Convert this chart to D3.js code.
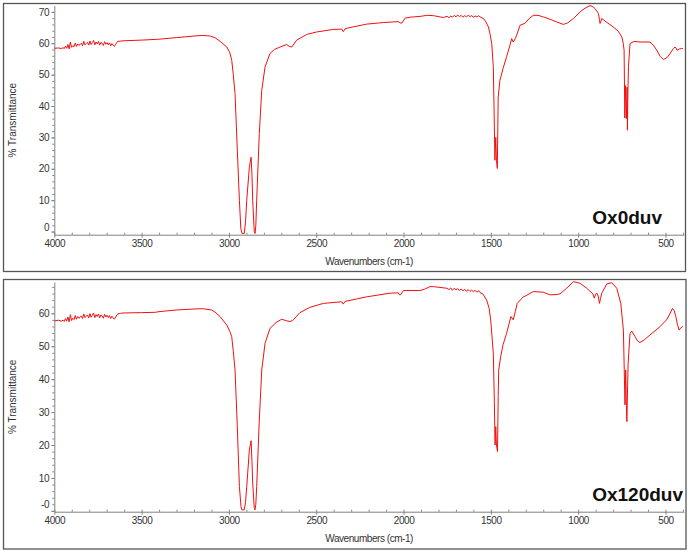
<!DOCTYPE html>
<html><head><meta charset="utf-8">
<script src="https://cdn.jsdelivr.net/npm/d3@7"></script>
<style>body{margin:0;background:#fff}svg{display:block;font-family:"Liberation Sans",Arial,sans-serif}</style>
</head><body><svg id="c" width="689" height="553"></svg>
<script>
// ---- Data ----
const topWavenumbers = [4000,3975,3960,3950,3943,3936,3929,3922,3915,3908,3901,3894,3887,3880,3873,3866,3859,3852,3845,3838,3831,3824,3817,3810,3803,3796,3789,3782,3775,3768,3761,3754,3747,3740,3733,3726,3719,3712,3705,3698,3691,3684,3677,3670,3663,3656,3649,3642,3635,3620,3600,3500,3400,3300,3200,3150,3107,3080,3050,3012,2995,2984,2975,2965,2952,2940,2932,2925,2912,2905,2898,2883,2873,2868,2864,2855,2850,2846,2841,2826,2812,2793,2765,2740,2707,2669,2655,2640,2612,2555,2497,2402,2354,2345,2335,2307,2211,2116,2030,2020,2010,1991,1963,1900,1867,1829,1791,1772,1750,1740,1730,1720,1710,1700,1690,1680,1670,1660,1650,1640,1630,1620,1610,1600,1590,1580,1570,1562,1545,1533,1514,1505,1495,1486,1482,1477,1472,1468,1463,1458,1448,1430,1410,1390,1381,1372,1360,1352,1333,1304,1280,1257,1230,1200,1160,1123,1085,1060,1027,979,950,932,915,903,884,878,875,870,865,840,799,770,750,742,737,733,729,724,720,718,715,712,703,680,646,589,570,550,530,512,490,474,455,446,440,433,420,407,400];
const topTransmittance = [58.4,58.5,58.3,58.6,58.3,59.1,58.4,59.6,58.2,60.4,58.7,59.2,58.9,60.1,59.0,59.8,59.3,59.6,60.0,59.2,60.6,59.5,59.9,60.3,59.4,60.7,59.6,60.2,60.9,59.5,60.4,59.8,60.6,59.4,60.3,60.0,59.3,60.5,59.7,60.2,59.5,60.1,59.2,59.9,59.4,59.0,59.6,60.3,60.6,60.7,60.8,61.0,61.3,61.8,62.3,62.5,62.3,61.8,60.6,58.8,57.0,54.6,50.0,44.0,26.0,10.0,1.0,-0.6,-0.6,3.0,10.0,20.5,23.7,18.0,10.0,0.0,-0.6,2.0,10.0,31.3,45.0,52.5,56.7,58.0,58.8,59.6,59.0,58.8,61.0,62.8,63.6,64.4,64.5,63.7,64.6,65.0,66.1,66.6,66.9,66.5,66.4,68.0,68.3,68.6,68.9,68.8,68.4,68.2,68.6,68.1,68.7,68.3,68.9,68.4,69.0,68.5,68.9,68.3,68.8,68.4,68.9,68.5,68.8,68.3,68.7,68.4,68.8,68.4,67.9,67.3,65.2,63.0,59.9,52.5,40.0,22.7,30.0,22.7,20.1,42.9,48.2,52.0,55.7,59.5,61.5,60.4,61.5,62.6,65.7,66.4,67.9,68.9,68.9,68.4,67.6,66.8,66.0,66.5,67.9,70.5,71.5,72.0,71.6,71.0,69.5,67.5,66.3,67.0,67.9,66.8,65.2,63.8,62.0,60.0,57.8,36.2,46.5,36.0,46.0,32.3,45.0,52.5,59.9,60.6,60.4,60.4,59.4,57.8,55.8,54.8,55.5,56.7,58.3,58.8,58.5,57.8,58.2,58.3,58.4];

const bottomWavenumbers = [4000,3975,3960,3950,3943,3936,3929,3922,3915,3908,3901,3894,3887,3880,3873,3866,3859,3852,3845,3838,3831,3824,3817,3810,3803,3796,3789,3782,3775,3768,3761,3754,3747,3740,3733,3726,3719,3712,3705,3698,3691,3684,3677,3670,3663,3656,3649,3642,3635,3620,3600,3500,3420,3400,3300,3200,3150,3099,3080,3051,3012,2995,2984,2975,2965,2952,2940,2931,2925,2913,2905,2898,2883,2873,2868,2864,2855,2851,2846,2841,2826,2812,2793,2765,2730,2698,2669,2650,2635,2593,2536,2459,2354,2345,2335,2211,2078,2030,2024,2015,2001,1906,1880,1849,1829,1752,1740,1730,1720,1710,1700,1690,1680,1670,1660,1650,1640,1630,1620,1610,1600,1590,1580,1570,1562,1545,1524,1510,1501,1486,1480,1476,1472,1468,1462,1458,1455,1444,1430,1410,1395,1385,1372,1360,1349,1314,1300,1257,1200,1161,1120,1104,1066,1027,989,951,916,908,900,893,885,878,872,865,836,808,779,756,741,735,732,728,724,721,717,714,703,693,674,660,646,620,589,532,494,475,460,450,441,431,422,412,403,400];
const bottomTransmittance = [57.7,57.9,57.6,57.9,57.5,58.4,57.6,58.9,57.4,59.6,57.8,58.5,58.1,59.3,58.2,59.0,58.5,58.8,59.2,58.4,59.8,58.7,59.1,59.5,58.6,59.9,58.8,59.4,60.1,58.7,59.6,59.0,59.8,58.6,59.5,59.2,58.5,59.7,58.9,59.4,58.7,59.3,58.4,59.1,58.6,58.2,58.8,59.5,59.8,60.0,60.1,60.2,60.3,60.5,61.0,61.3,61.4,61.0,60.4,59.0,56.4,54.5,52.9,48.5,42.8,25.6,7.4,1.3,0.3,0.3,2.5,7.4,18.5,21.3,15.0,8.5,1.0,0.3,2.0,7.4,27.6,42.8,50.9,55.4,57.2,58.2,57.7,57.5,57.8,60.2,61.8,63.0,63.5,62.8,63.6,65.0,66.1,66.2,65.6,65.7,66.9,66.9,67.3,68.1,68.1,67.6,67.2,67.7,67.0,67.6,67.1,67.5,66.9,67.4,66.8,67.3,66.7,67.2,66.6,67.1,66.5,67.0,66.4,66.9,66.3,65.8,64.0,61.5,58.0,47.9,33.0,20.0,25.6,20.0,18.0,35.0,42.8,46.8,50.5,53.9,57.0,59.0,58.0,60.5,63.0,65.0,65.3,66.6,66.4,65.6,65.7,65.9,67.6,69.6,69.1,67.6,65.9,64.6,65.8,66.1,65.2,63.0,64.5,66.1,68.9,69.3,67.6,63.0,54.9,40.0,32.2,42.8,32.0,27.1,38.0,44.8,53.9,54.6,52.9,51.6,51.1,52.0,53.4,55.9,58.0,59.8,61.5,60.8,59.0,56.5,54.9,55.6,55.9,56.0];

const xTickValues = [4000,3500,3000,2500,2000,1500,1000,500];
const xTickLabels = ["4000","3500","3000","2500","2000","1500","1000","500"];
const topYTickValues = [0,10,20,30,40,50,60,70];
const topYTickLabels = ["0","10","20","30","40","50","60","70"];
const bottomYTickValues = [0,10,20,30,40,50,60];
const bottomYTickLabels = ["-0","10","20","30","40","50","60"];
const sampleNames = ["Ox0duv","Ox120duv"];
const xTitle = "Wavenumbers (cm-1)";
const yTitle = "% Transmittance";

// ---- Layout ----
const svg = d3.select("#c");
svg.append("rect").attr("width",689).attr("height",553).attr("fill","#fff");

const panels = [
  {frame:[3.5,3.5,682,268], left:54.3, right:684, top:5.6, bottom:234.7, yDomain:[-1,72],
   wn:topWavenumbers, tr:topTransmittance, yt:topYTickValues, yl:topYTickLabels, name:sampleNames[0], nameX:662, nameY:224},
  {frame:[3.5,279.5,682.5,269.5], left:54.3, right:684, top:282, bottom:511.7, yDomain:[-0.25,69.5],
   wn:bottomWavenumbers, tr:bottomTransmittance, yt:bottomYTickValues, yl:bottomYTickLabels, name:sampleNames[1], nameX:683, nameY:501}
];

const axisColor = "#808080", textColor = "#333";

panels.forEach((p, pi) => {
  const g = svg.append("g");
  g.append("rect").attr("x",p.frame[0]).attr("y",p.frame[1]).attr("width",p.frame[2]).attr("height",p.frame[3])
    .attr("fill","none").attr("stroke","#555").attr("stroke-width",1.3);

  const x = d3.scaleLinear().domain([4000,394]).range([p.left,p.right]);
  const y = d3.scaleLinear().domain(p.yDomain).range([p.bottom,p.top]);

  // minor ticks
  const minorX = d3.range(4000, 399, -100);
  const gmx = g.append("g").attr("transform",`translate(0,${p.bottom})`)
    .call(d3.axisBottom(x).tickValues(minorX).tickSize(-2).tickFormat(""));
  gmx.select(".domain").remove();
  gmx.selectAll("line").attr("stroke",axisColor);
  const minorY = d3.range(0, p.yDomain[1], 2);
  const gmy = g.append("g").attr("transform",`translate(${p.left},0)`)
    .call(d3.axisLeft(y).tickValues(minorY).tickSize(2).tickFormat(""));
  gmy.select(".domain").remove();
  gmy.selectAll("line").attr("stroke",axisColor);

  // x axis
  const gx = g.append("g").attr("transform",`translate(0,${p.bottom})`)
    .call(d3.axisBottom(x).tickValues(xTickValues).tickFormat((d,i)=>xTickLabels[i]).tickSize(3).tickSizeOuter(0).tickPadding(2.5));
  gx.select(".domain").attr("stroke",axisColor);
  gx.selectAll("line").attr("stroke",axisColor);
  gx.selectAll("text").attr("fill",textColor).attr("font-size","10px").attr("letter-spacing","-0.4px")
    .attr("font-family",'"Liberation Sans",Arial,sans-serif');

  // y axis
  const gy = g.append("g").attr("transform",`translate(${p.left},0)`)
    .call(d3.axisLeft(y).tickValues(p.yt).tickFormat((d,i)=>p.yl[i]).tickSize(3).tickSizeOuter(0).tickPadding(2));
  gy.select(".domain").attr("stroke",axisColor);
  gy.selectAll("line").attr("stroke",axisColor);
  gy.selectAll("text").attr("fill",textColor).attr("font-size","10px").attr("letter-spacing","-0.3px")
    .attr("font-family",'"Liberation Sans",Arial,sans-serif')
    .attr("y", d => Math.min(0, (p.bottom - 7) - y(d)));

  // titles
  g.append("text").attr("x",(p.left+p.right)/2).attr("y",p.bottom+30.5).attr("text-anchor","middle")
    .attr("font-size","10px").attr("letter-spacing","-0.45px").attr("fill",textColor).text(xTitle);
  g.append("text").attr("transform",`translate(16,${(p.top+p.bottom)/2}) rotate(-90)`).attr("text-anchor","middle")
    .attr("font-size","10px").attr("fill",textColor).text(yTitle);

  // spectrum
  const clipId = "clip"+pi;
  g.append("clipPath").attr("id",clipId).append("rect")
    .attr("x",p.left).attr("y",p.top-2).attr("width",p.right-p.left).attr("height",p.bottom-p.top+2);
  const pts = p.wn.map((w,i)=>[w,p.tr[i]]);
  const line = d3.line().x(d=>x(d[0])).y(d=>y(d[1]));
  g.append("path").datum(pts).attr("clip-path",`url(#${clipId})`).attr("d",line)
    .attr("fill","none").attr("stroke","#f01010").attr("stroke-width",1).attr("stroke-linejoin","round");

  // sample name
  g.append("text").attr("x",p.nameX).attr("y",p.nameY).attr("text-anchor","end")
    .attr("font-size","19px").attr("font-weight","bold").attr("fill","#111").text(p.name);
});
</script></body></html>
